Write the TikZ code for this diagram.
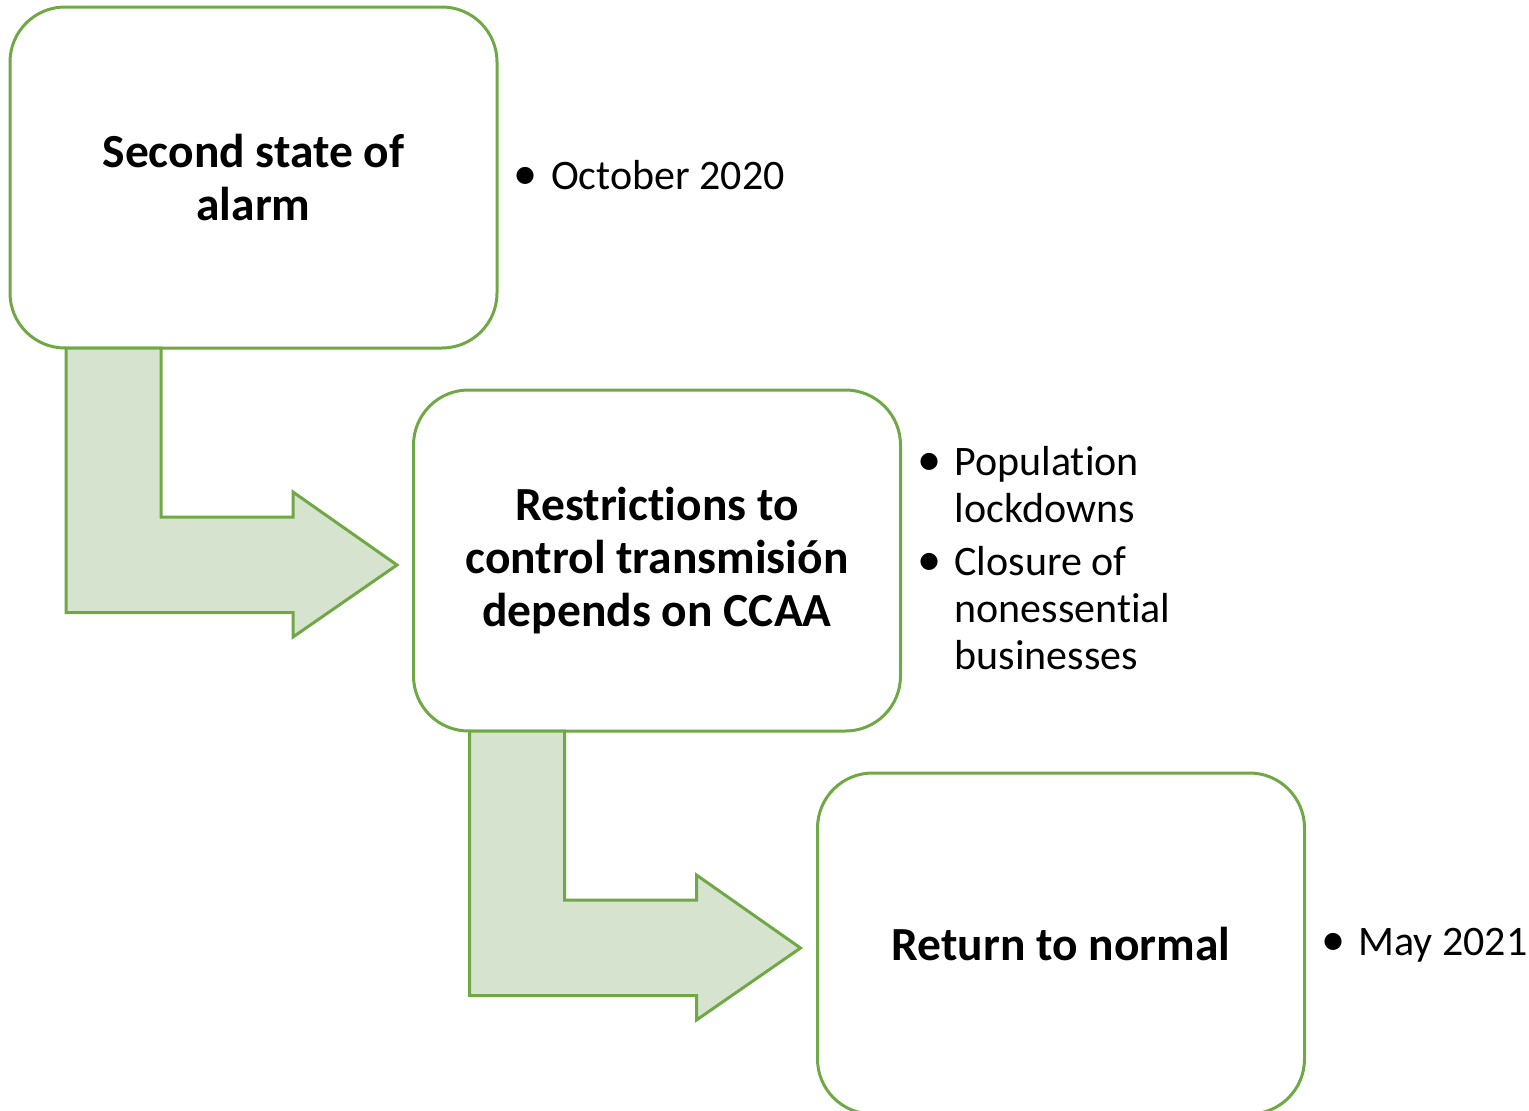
\documentclass[tikz,border=0pt]{standalone}
\usepackage{fontspec}
\setmainfont{Carlito}[Ligatures=NoCommon]
\usetikzlibrary{positioning}

\definecolor{leafline}{RGB}{112,168,70}
\definecolor{leaffill}{RGB}{214,227,207}
\newcommand{\bul}{\makebox[30pt]{\scalebox{1.15}{•}}}

\begin{document}
\begin{tikzpicture}[x=1pt, y=-1pt, line width=3pt,
    stage/.style={draw=leafline, fill=white, rounded corners=55pt,
      minimum width=487pt, minimum height=341pt, inner sep=0pt, outer sep=0pt,
      align=center, font=\fontsize{47.5}{53}\selectfont\bfseries},
    note/.style={inner sep=0pt, outer sep=0pt, yshift=-3pt,
      font=\fontsize{42}{47}\selectfont},
    bentarrow/.style={draw=leafline, fill=leaffill, line join=miter}]
    \useasboundingbox (0,0) rectangle (1529,1111);

    \node[stage] (b1) at (253.5,177.5) {Second state of\\alarm};
    \node[stage] (b2) at (657,560.5) {Restrictions to\\control transmisión\\depends on CCAA};
    \node[stage] (b3) at (1061,943.5) {Return to normal};

    \node[note, right=14pt of b1] (n1) {\begin{tabular}{@{}l@{\hspace{10pt}}l@{}}
        \bul & October 2020
      \end{tabular}};
    \node[note, right=14pt of b2] (n2) {\begin{tabular}{@{}l@{\hspace{10pt}}l@{}}
        \bul & Population\\
             & lockdowns\\[6pt]
        \bul & Closure of\\
             & nonessential\\
             & businesses
      \end{tabular}};
    \node[note, right=14pt of b3] (n3) {\begin{tabular}{@{}l@{\hspace{10pt}}l@{}}
        \bul & May 2021
      \end{tabular}};

    \foreach \from in {b1,b2}{
        \draw[bentarrow, shift={(\from.south west)}] (56,0) -- (56,264.5) --
        (283,264.5) -- (283,289) -- (387,217) -- (283,144) -- (283,169) --
        (151,169) -- (151,0) -- cycle;
      }
  \end{tikzpicture}
\end{document}
